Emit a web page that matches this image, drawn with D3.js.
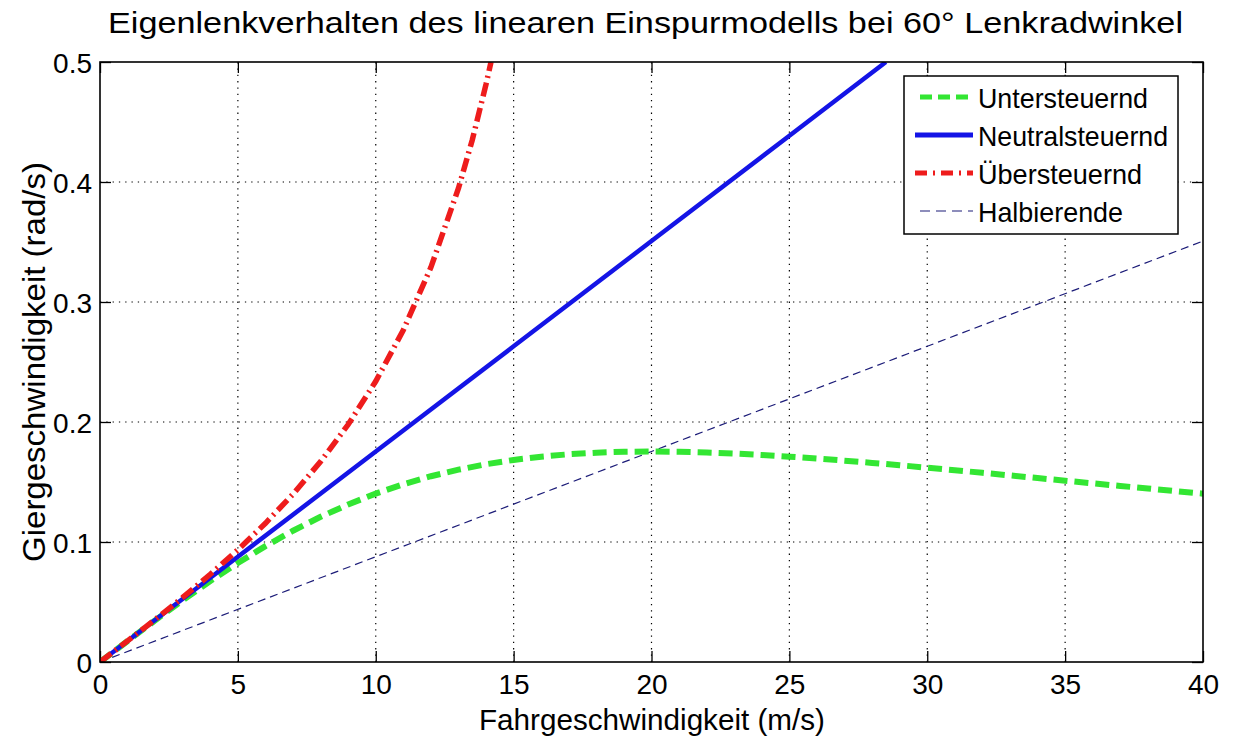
<!DOCTYPE html>
<html><head><meta charset="utf-8">
<script src="https://cdn.jsdelivr.net/npm/d3@7"></script>
<style>body{margin:0;background:#fff}svg{display:block}text{font-family:"Liberation Sans",Arial,sans-serif;fill:#000}</style>
</head><body><svg id="c" width="1238" height="736"></svg>
<script>
const title = "Eigenlenkverhalten des linearen Einspurmodells bei 60° Lenkradwinkel";
const xLabel = "Fahrgeschwindigkeit (m/s)";
const yLabel = "Giergeschwindigkeit (rad/s)";
const xTicks = [0,5,10,15,20,25,30,35,40];
const yTicks = [0,0.1,0.2,0.3,0.4,0.5];
const seriesNames = ["Untersteuernd","Neutralsteuernd","Übersteuernd","Halbierende"];

const vUnter = [0,1,2,3,4,5,6,7,8,9,10,11,12,13,14,15,16,17,18,19,20,21,22,23,24,25,26,27,28,29,30,31,32,33,34,35,36,37,38,39,40];
const yUnter = [0,0.0175,0.0347,0.0515,0.0675,0.0825,0.0966,0.1094,0.1210,0.1313,0.1403,0.1481,0.1548,0.1603,0.1648,0.1684,0.1711,0.1731,0.1744,0.1752,0.1754,0.1752,0.1746,0.1737,0.1725,0.1711,0.1695,0.1678,0.1659,0.1640,0.1619,0.1598,0.1577,0.1555,0.1533,0.1511,0.1489,0.1467,0.1446,0.1424,0.1403];
const vNeutral = [0,5,10,15,20,25,28.5];
const yNeutral = [0,0.0877,0.1754,0.2631,0.3508,0.4385,0.5];
const vUeber = [0,1,2,3,4,5,6,7,8,9,10,11,12,13,13.5,14,14.18];
const yUeber = [0,0.0176,0.0354,0.0538,0.0731,0.0935,0.1156,0.1399,0.1670,0.1979,0.2339,0.2766,0.3289,0.3948,0.4350,0.4815,0.5];
const vHalb = [0,10,20,30,40];
const yHalb = [0,0.0877,0.1754,0.2631,0.3508];

const svg = d3.select("#c");
const L=100,R=1203,T=62,B=662;
const x = d3.scaleLinear().domain([0,40]).range([L,R]);
const y = d3.scaleLinear().domain([0,0.5]).range([B,T]);

// grid
const g = svg.append("g");
g.selectAll(".gx").data(xTicks.slice(1,-1)).enter().append("line")
 .attr("x1",d=>x(d)).attr("x2",d=>x(d)).attr("y1",B).attr("y2",T)
 .attr("stroke","#000").attr("stroke-width",1.2).attr("stroke-dasharray","1.3,5");
g.selectAll(".gy").data(yTicks.slice(1,-1)).enter().append("line")
 .attr("y1",d=>y(d)).attr("y2",d=>y(d)).attr("x1",L).attr("x2",R)
 .attr("stroke","#000").attr("stroke-width",1.2).attr("stroke-dasharray","1.3,5");

// axes with inward ticks
const fmt = d=>d===0?"0":String(d);
const axB = svg.append("g").attr("transform",`translate(0,${B})`).call(d3.axisBottom(x).tickValues(xTicks).tickSize(-11).tickFormat(fmt));
const axT = svg.append("g").attr("transform",`translate(0,${T})`).call(d3.axisTop(x).tickValues(xTicks).tickSize(-11).tickFormat(""));
const axL = svg.append("g").attr("transform",`translate(${L},0)`).call(d3.axisLeft(y).tickValues(yTicks).tickSize(-11).tickFormat(fmt));
const axR = svg.append("g").attr("transform",`translate(${R},0)`).call(d3.axisRight(y).tickValues(yTicks).tickSize(-11).tickFormat(""));
[axB,axT,axL,axR].forEach(a=>{
  a.select(".domain").remove();
  a.selectAll("line").attr("stroke","#000").attr("stroke-width",1.3);
  a.selectAll("text").style("font-family","Liberation Sans, Arial, sans-serif").style("font-size","28px").attr("fill","#000");
});
axB.selectAll("text").attr("y",32).attr("dy",0);
axL.selectAll("text").attr("x",-8).attr("dy","0.36em");

svg.append("defs").append("clipPath").attr("id","clip").append("rect").attr("x",L).attr("y",T).attr("width",R-L).attr("height",B-T);

const line = d3.line().x(d=>x(d[0])).y(d=>y(d[1]));
const zip=(a,b)=>a.map((v,i)=>[v,b[i]]);
const styles = [
  {data:zip(vHalb,yHalb), color:"#1c1c78", w:1.2, dash:"8,5"},
  {data:zip(vUnter,yUnter), color:"#33e633", w:6, dash:"14,7"},
  {data:zip(vNeutral,yNeutral), color:"#1414e6", w:4.5, dash:null},
  {data:zip(vUeber,yUeber), color:"#ee1c1c", w:5.5, dash:"14,5,2,5"}
];
const lines = svg.append("g").attr("clip-path","url(#clip)");
styles.forEach(s=>{
  const p = lines.append("path").attr("d",line(s.data)).attr("fill","none")
   .attr("stroke",s.color).attr("stroke-width",s.w);
  if(s.dash) p.attr("stroke-dasharray",s.dash);
});

// box
svg.append("rect").attr("x",L).attr("y",T).attr("width",R-L).attr("height",B-T)
 .attr("fill","none").attr("stroke","#000").attr("stroke-width",1.6);

// legend
const lg = svg.append("g");
lg.append("rect").attr("x",904).attr("y",76).attr("width",274).attr("height",158)
 .attr("fill","#fff").attr("stroke","#000").attr("stroke-width",1.5);
const legStyles = [
  {color:"#33e633", w:5, dash:"12,6", x1:920},
  {color:"#1414e6", w:5, dash:null, x1:915},
  {color:"#ee1c1c", w:5, dash:"12,6,2,6", x1:915},
  {color:"#1c1c78", w:1.2, dash:"10,6", x1:920}
];
const legLen = [170,190,164,145];
seriesNames.forEach((n,i)=>{
  const yy = 97 + i*38;
  const l = lg.append("line").attr("x1",legStyles[i].x1).attr("x2",973).attr("y1",yy).attr("y2",yy)
    .attr("stroke",legStyles[i].color).attr("stroke-width",legStyles[i].w);
  if(legStyles[i].dash) l.attr("stroke-dasharray",legStyles[i].dash);
  lg.append("text").attr("x",978).attr("y",yy+11).style("font-size","28px")
    .attr("textLength",legLen[i]).attr("lengthAdjust","spacingAndGlyphs").text(n);
});

// labels
svg.append("text").attr("x",108).attr("y",33).style("font-size","29px")
 .attr("textLength",1075).attr("lengthAdjust","spacingAndGlyphs").text(title);
svg.append("text").attr("x",652).attr("y",730).attr("text-anchor","middle").style("font-size","29px")
 .attr("textLength",346).attr("lengthAdjust","spacingAndGlyphs").text(xLabel);
svg.append("text").attr("transform",`translate(45,${(T+B)/2}) rotate(-90)`).attr("text-anchor","middle").style("font-size","32px")
 .attr("textLength",400).attr("lengthAdjust","spacingAndGlyphs").text(yLabel);
</script></body></html>
